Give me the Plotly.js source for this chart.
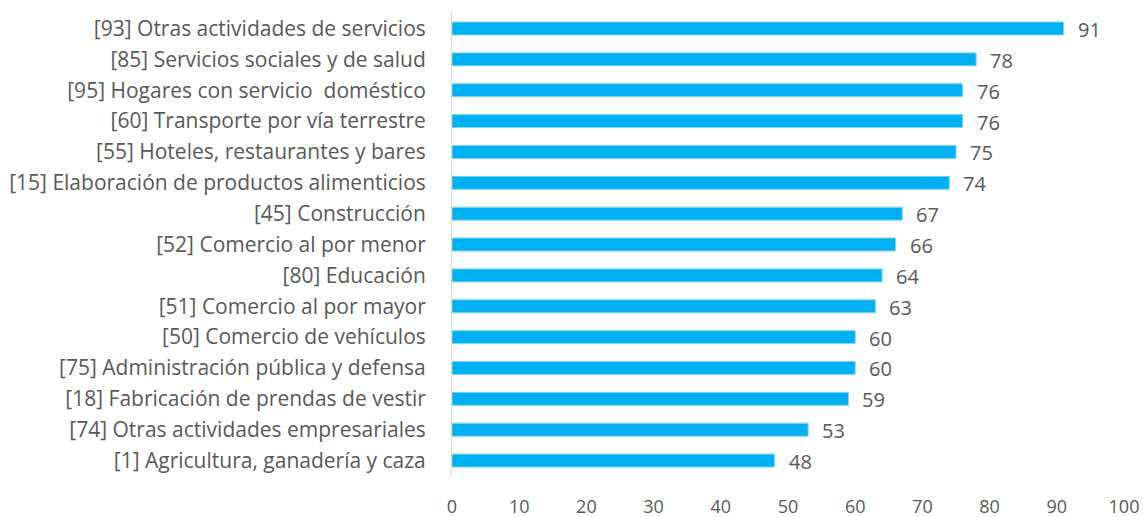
<!DOCTYPE html>
<html>
<head>
<meta charset="utf-8">
<script src="https://cdn.plot.ly/plotly-3.0.1.min.js"></script>
<style>html,body{margin:0;padding:0;background:#fff;}#chart{width:1143px;height:517px;}</style>
</head>
<body>
<div id="chart"></div>
<script>
const categories = [
  "[93] Otras actividades de servicios",
  "[85] Servicios sociales y de salud",
  "[95] Hogares con servicio  doméstico",
  "[60] Transporte por vía terrestre",
  "[55] Hoteles, restaurantes y bares",
  "[15] Elaboración de productos alimenticios",
  "[45] Construcción",
  "[52] Comercio al por menor",
  "[80] Educación",
  "[51] Comercio al por mayor",
  "[50] Comercio de vehículos",
  "[75] Administración pública y defensa",
  "[18] Fabricación de prendas de vestir",
  "[74] Otras actividades empresariales",
  "[1] Agricultura, ganadería y caza"
];
const values = [91, 78, 76, 76, 75, 74, 67, 66, 64, 63, 60, 60, 59, 53, 48];
const tickValues = [0,10,20,30,40,50,60,70,80,90,100];

const textColor = "#595959";
const fontFamily = "'Open Sans', sans-serif";

const trace = {
  type: "bar",
  orientation: "h",
  x: values,
  y: categories,
  marker: {color: "#00B0F0", line: {color: "#7fd6f7", width: 1}},
  width: 0.42,
  hoverinfo: "none"
};

const annotations = values.map((v, i) => ({
  x: v, y: categories[i], xref: "x", yref: "y",
  text: String(v), showarrow: false,
  xanchor: "left", yanchor: "middle",
  xshift: 12, yshift: -1,
  font: {family: fontFamily, size: 20, color: textColor}
}));

const layout = {
  width: 1143, height: 517,
  margin: {l: 452, r: 19, t: 12, b: 41},
  paper_bgcolor: "#fff", plot_bgcolor: "#fff",
  showlegend: false,
  font: {family: fontFamily, color: textColor},
  xaxis: {
    range: [0, 100], tickvals: tickValues, ticktext: tickValues.map(String),
    showgrid: false, zeroline: false, showline: false, ticks: "",
    ticklabelstandoff: 18,
    tickfont: {family: fontFamily, size: 18, color: textColor},
    fixedrange: true
  },
  yaxis: {
    autorange: "reversed", type: "category",
    showgrid: false, zeroline: false,
    showline: true, linecolor: "#d9d9d9", linewidth: 1,
    ticks: "", ticklabelstandoff: 21,
    tickfont: {family: fontFamily, size: 21, color: textColor},
    fixedrange: true
  },
  annotations: annotations
};

Plotly.newPlot("chart", [trace], layout, {displayModeBar: false, staticPlot: true});
</script>
</body>
</html>
